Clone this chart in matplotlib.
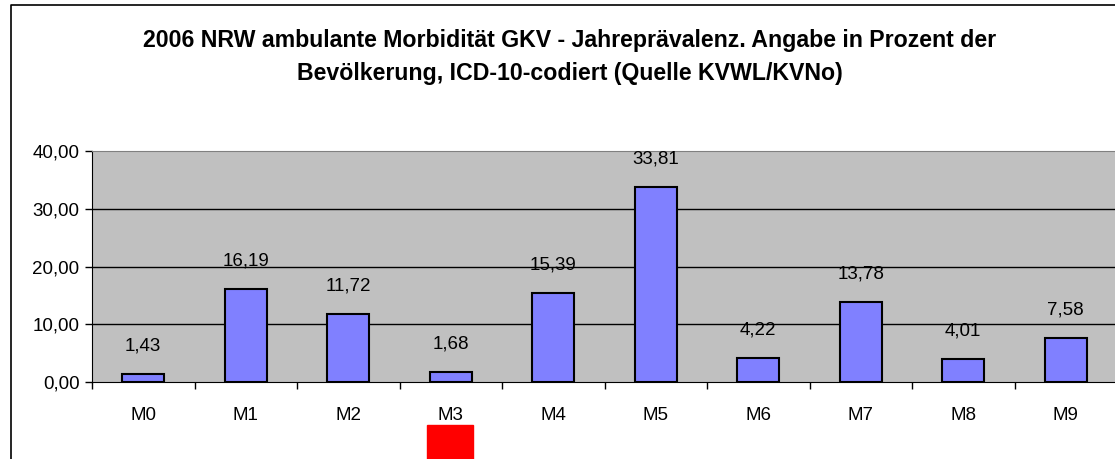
import matplotlib.pyplot as plt
from matplotlib.patches import Rectangle
from matplotlib.lines import Line2D
from matplotlib.ticker import FuncFormatter

categories = ['M0', 'M1', 'M2', 'M3', 'M4', 'M5', 'M6', 'M7', 'M8', 'M9']
values = [1.43, 16.19, 11.72, 1.68, 15.39, 33.81, 4.22, 13.78, 4.01, 7.58]
yticks = [0, 10, 20, 30, 40]
title = ('2006 NRW ambulante Morbidität GKV - Jahreprävalenz. Angabe in Prozent der\n'
         'Bevölkerung, ICD-10-codiert (Quelle KVWL/KVNo)')

plt.rcParams['font.family'] = ['Liberation Sans', 'DejaVu Sans']

fig = plt.figure(figsize=(11.15, 4.59), dpi=100)
ax = fig.add_axes([92 / 1115, 1 - 382 / 459, 1025 / 1115, 231 / 459])
ax.set_facecolor('#C0C0C0')

x = list(range(len(categories)))
ax.bar(x, values, width=0.41, color='#8080FF', edgecolor='black', linewidth=1.5, zorder=3)

def de_fmt(v):
    return f'{v:.2f}'.replace('.', ',')

for xi, v in zip(x, values):
    ax.annotate(de_fmt(v), (xi, v), xytext=(0, 14), textcoords='offset points',
                ha='center', va='bottom', fontsize=13.5, zorder=4)

ax.set_xlim(-0.5, len(categories) - 0.5)
ax.set_ylim(0, 40)
ax.set_yticks(yticks)
ax.yaxis.set_major_formatter(FuncFormatter(lambda v, p: de_fmt(v)))
for t in yticks[1:-1]:
    ax.axhline(t, color='black', linewidth=1, zorder=1)

ax.set_xticks([i - 0.5 for i in x] + [len(categories) - 0.5])
ax.set_xticklabels([])
ax.set_xticks(x, minor=True)
ax.set_xticklabels(categories, minor=True)
ax.tick_params(axis='x', which='minor', length=0, pad=18, labelsize=13.5)
ax.tick_params(axis='x', which='major', length=5, width=1, direction='out')
ax.tick_params(axis='y', length=5, width=1, direction='out', labelsize=13.5, pad=4)

for side in ['top', 'right']:
    ax.spines[side].set_color('#808080')
ax.spines['left'].set_color('black')
ax.spines['bottom'].set_color('black')
ax.spines['right'].set_visible(False)

fig.text(570 / 1115, 1 - 57 / 459, title, ha='center', va='center', fontsize=16.7,
         fontweight='bold', linespacing=1.55)

# chart frame (cut off at right/bottom)
fig.add_artist(Line2D([11 / 1115, 11 / 1115, 1.0], [0.0, 1 - 5 / 459, 1 - 5 / 459],
                      color='black', linewidth=1.2, transform=fig.transFigure))
# red marker below M3
fig.add_artist(Rectangle((427 / 1115, 0), 46 / 1115, 34 / 459, color='#FF0000',
                         transform=fig.transFigure))

fig.savefig('out.png', dpi=100)
